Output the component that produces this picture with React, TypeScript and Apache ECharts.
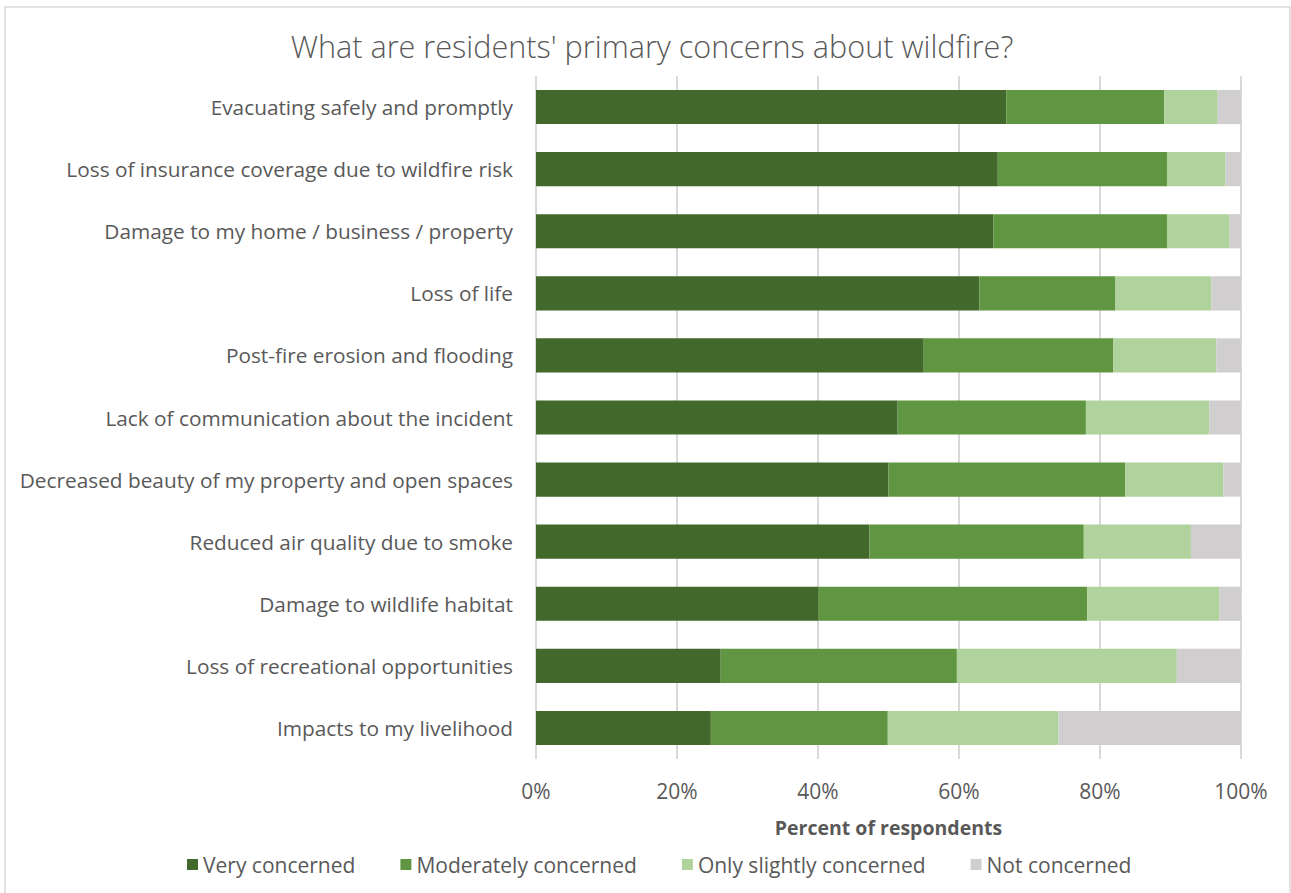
import React, { useEffect, useRef } from "react";
import * as echarts from "echarts";

const categories = [
  "Evacuating safely and promptly",
  "Loss of insurance coverage due to wildfire risk",
  "Damage to my home / business / property",
  "Loss of life",
  "Post-fire erosion and flooding",
  "Lack of communication about the incident",
  "Decreased beauty of my property and open spaces",
  "Reduced air quality due to smoke",
  "Damage to wildlife habitat",
  "Loss of recreational opportunities",
  "Impacts to my livelihood",
];

const veryConcerned = [66.7, 65.5, 64.9, 62.9, 55.0, 51.3, 50.0, 47.3, 40.1, 26.2, 24.8];
const moderatelyConcerned = [22.4, 24.0, 24.6, 19.3, 26.9, 26.7, 33.6, 30.4, 38.1, 33.5, 25.1];
const slightlyConcerned = [7.6, 8.3, 8.9, 13.6, 14.6, 17.5, 13.9, 15.2, 18.7, 31.2, 24.2];
const notConcerned = [3.3, 2.2, 1.6, 4.2, 3.5, 4.5, 2.5, 7.1, 3.1, 9.1, 25.9];

const seriesNames = ["Very concerned", "Moderately concerned", "Only slightly concerned", "Not concerned"];
const seriesColors = ["#43682b", "#609641", "#b0d39d", "#d0cecf"];

const FONT = "'Open Sans', sans-serif";
const TEXT = "#595959";

export default function App() {
  const ref = useRef<HTMLDivElement>(null);
  useEffect(() => {
    if (!ref.current) return;
    const chart = echarts.init(ref.current, undefined, { renderer: "svg" });
    const data = [veryConcerned, moderatelyConcerned, slightlyConcerned, notConcerned];
    chart.setOption({
      animation: false,
      backgroundColor: "#ffffff",
      textStyle: { fontFamily: FONT },
      title: {
        text: "What are residents' primary concerns about wildfire?",
        left: 647,
        textAlign: "center",
        top: 25,
        textStyle: { fontFamily: FONT, fontWeight: 300, fontSize: 30.6, color: TEXT },
      },
      graphic: [
        {
          type: "rect",
          shape: { x: 5, y: 7, width: 1285, height: 900 },
          style: { fill: "none", stroke: "#d9d9d9", lineWidth: 1.5 },
          silent: true,
        },
      ],
      legend: {
        data: seriesNames,
        left: 182,
        top: 849,
        icon: "rect",
        itemWidth: 11,
        itemHeight: 11,
        itemGap: 45,
        textStyle: { fontFamily: FONT, fontSize: 21, color: TEXT },
      },
      grid: { left: 536, right: 50, top: 76, height: 683, containLabel: false },
      xAxis: {
        type: "value",
        min: 0,
        max: 100,
        interval: 20,
        name: "Percent of respondents",
        nameLocation: "middle",
        nameGap: 58,
        nameTextStyle: { fontFamily: FONT, fontWeight: "bold", fontSize: 19.5, color: TEXT },
        axisLine: { show: false },
        axisTick: { show: false },
        axisLabel: { formatter: "{value}%", fontSize: 21, color: TEXT, margin: 21, fontFamily: FONT },
        splitLine: { show: true, lineStyle: { color: "#d9d9d9", width: 2 } },
      },
      yAxis: {
        type: "category",
        data: categories,
        inverse: true,
        axisLine: { show: false },
        axisTick: { show: false },
        axisLabel: { fontSize: 20.8, color: TEXT, margin: 23, fontFamily: FONT },
      },
      series: seriesNames.map((name, i) => ({
        name,
        type: "bar",
        stack: "total",
        barCategoryGap: "45%",
        data: data[i],
        itemStyle: { color: seriesColors[i] },
      })),
    });
    return () => chart.dispose();
  }, []);
  return (
    <div
      ref={ref}
      style={{ position: "fixed", left: 0, top: 0, width: 1291, height: 893 }}
    />
  );
}
